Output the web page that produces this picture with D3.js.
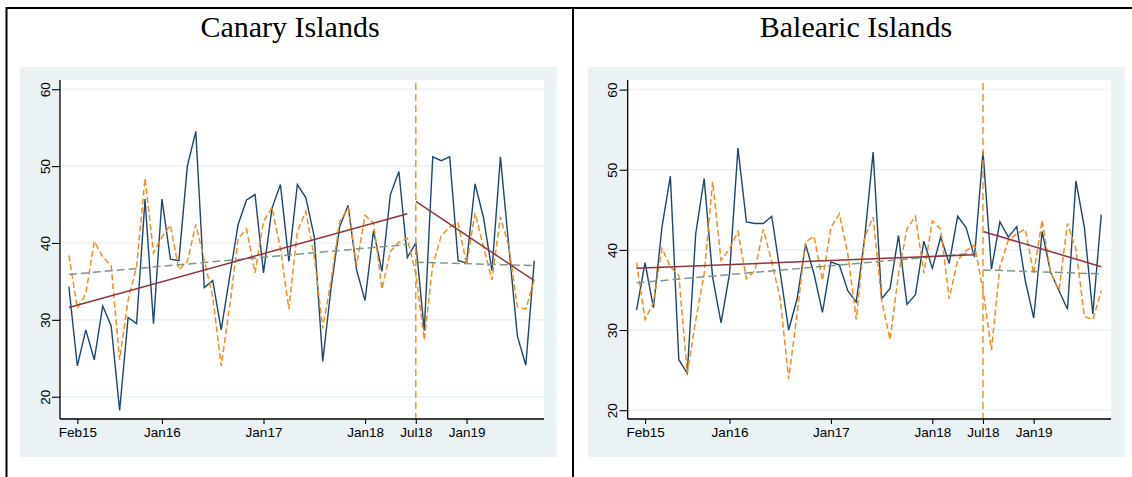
<!DOCTYPE html>
<html>
<head>
<meta charset="utf-8">
<script src="https://cdn.jsdelivr.net/npm/d3@7"></script>
<style>
  body { margin: 0; background: #fff; }
  svg { display: block; }
  .tick text { font-family: "Liberation Sans", Arial, sans-serif; font-size: 13.5px; fill: #000; }
  .title { font-family: "Liberation Serif", "Times New Roman", serif; font-size: 30px; fill: #000; }
</style>
</head>
<body>
<svg id="chart" width="1132" height="477"></svg>
<script>
// months are indexed 0..55 (one point per month)
const months = d3.range(0, 56);
const tickMonths = [1, 11, 23, 35, 41, 47];
const tickLabels = ["Feb15", "Jan16", "Jan17", "Jan18", "Jul18", "Jan19"];
const yTicks = [20, 30, 40, 50, 60];
const breakMonth = 41;

// Canary Islands
const canaryActual = [34.3, 24.0, 28.7, 24.8, 31.8, 29.2, 18.2, 30.3, 29.5, 45.7,
  29.5, 45.7, 37.9, 37.7, 50.0, 54.5, 34.2, 35.1, 28.7, 35.6,
  42.4, 45.6, 46.3, 36.1, 44.5, 47.6, 37.6, 47.6, 45.9, 40.8,
  24.6, 34.3, 42.1, 44.9, 36.5, 32.5, 41.6, 36.3, 46.3, 49.3,
  38.1, 40.0, 28.6, 51.2, 50.7, 51.2, 37.7, 37.4, 47.7, 43.3,
  36.4, 51.2, 39.5, 27.9, 24.1, 37.7];
const canaryPredicted = [38.4, 31.5, 33.4, 40.2, 38.2, 37.0, 24.8, 32.6, 36.9, 48.4,
  38.7, 40.8, 42.3, 36.5, 37.6, 42.4, 37.8, 33.0, 24.0, 31.7,
  40.6, 41.8, 36.1, 42.8, 44.6, 39.3, 31.4, 41.5, 44.1, 38.2,
  28.9, 35.2, 42.8, 44.5, 37.1, 43.6, 42.6, 34.0, 38.9, 40.1,
  40.6, 36.0, 27.4, 37.1, 40.9, 42.1, 42.6, 37.2, 43.9, 39.5,
  35.2, 43.4, 39.5, 31.7, 31.4, 35.2];
const canaryTrendPre = [35.9, 39.8];   // dashed fit, months 0..40
const canaryTrendPost = [37.5, 37.05]; // dashed fit, months 41..55
const canaryFitPre = [31.6, 43.8];     // solid fit, months 0..40
const canaryFitPost = [45.4, 35.1];    // solid fit, months 41..55

// Balearic Islands
const balearicActual = [32.5, 38.4, 32.8, 42.8, 49.2, 26.3, 24.6, 42.0, 48.9, 36.6,
  30.9, 37.0, 52.7, 43.5, 43.3, 43.3, 44.2, 37.2, 30.0, 33.9,
  40.7, 37.0, 32.2, 38.5, 38.1, 34.9, 33.5, 41.5, 52.2, 33.9,
  35.2, 41.8, 33.2, 34.4, 41.1, 37.7, 41.6, 38.3, 44.2, 42.8,
  39.1, 52.3, 37.6, 43.5, 41.6, 42.9, 36.2, 31.5, 42.3, 37.2,
  34.9, 32.6, 48.6, 42.8, 32.0, 44.4];
const balearicPredicted = [38.4, 31.3, 33.4, 40.2, 37.9, 36.8, 24.6, 31.2, 37.0, 48.5,
  38.7, 40.1, 42.3, 36.4, 37.4, 42.6, 38.5, 33.9, 23.9, 32.0,
  41.0, 41.7, 36.2, 42.8, 44.5, 39.5, 31.3, 41.6, 44.1, 33.7,
  28.8, 37.0, 42.6, 44.2, 37.1, 43.6, 42.6, 33.9, 38.7, 39.9,
  40.6, 35.0, 27.5, 37.9, 41.2, 42.0, 42.6, 37.0, 43.7, 37.2,
  35.0, 43.3, 40.1, 31.7, 31.3, 34.9];
const balearicTrendPre = [35.9, 39.6];
const balearicTrendPost = [37.5, 37.0];
const balearicFitPre = [37.7, 39.4];
const balearicFitPost = [42.3, 37.9];

const svg = d3.select("#chart");

// outer frame
svg.append("line").attr("x1", 6.5).attr("x2", 1132).attr("y1", 8).attr("y2", 8)
  .attr("stroke", "#000").attr("stroke-width", 2);
svg.append("line").attr("x1", 6.5).attr("x2", 6.5).attr("y1", 7).attr("y2", 477)
  .attr("stroke", "#000").attr("stroke-width", 2);
svg.append("line").attr("x1", 573).attr("x2", 573).attr("y1", 7).attr("y2", 477)
  .attr("stroke", "#000").attr("stroke-width", 2);

function drawPanel(opts) {
  const g = svg.append("g");
  const W = opts.plotRight - opts.plotLeft, H = 339;

  g.append("text").attr("class", "title")
    .attr("x", opts.titleX).attr("y", 37)
    .attr("text-anchor", "middle").text(opts.title);

  g.append("rect").attr("x", opts.bgLeft).attr("y", 67)
    .attr("width", 537).attr("height", 390).attr("fill", "#eaf2f3");

  const plot = g.append("g").attr("transform", `translate(${opts.plotLeft},80)`);
  plot.append("rect").attr("width", W).attr("height", H).attr("fill", "#fff");

  const x = d3.scaleLinear().domain([-1.05, 56.15]).range([0, W]);
  const y = d3.scaleLinear().domain(opts.yDomain).range([H, 0]);

  // grid
  plot.selectAll(".grid").data(yTicks).join("line")
    .attr("x1", 0).attr("x2", W)
    .attr("y1", d => y(d)).attr("y2", d => y(d))
    .attr("stroke", "#eaf2f3").attr("stroke-width", 1.5);

  const line = d3.line().x((d, i) => x(months[i])).y(d => y(d));

  plot.append("path").datum(opts.actual)
    .attr("d", line).attr("fill", "none")
    .attr("stroke", "#1a476f").attr("stroke-width", 1.4);

  plot.append("path").datum(opts.predicted)
    .attr("d", line).attr("fill", "none")
    .attr("stroke", "#f28e1c").attr("stroke-width", 1.5)
    .attr("stroke-dasharray", "6,3");

  const seg = (vals, t0, t1, color, dash) => {
    plot.append("line")
      .attr("x1", x(t0)).attr("x2", x(t1))
      .attr("y1", y(vals[0])).attr("y2", y(vals[1]))
      .attr("stroke", color).attr("stroke-width", 1.5)
      .attr("stroke-dasharray", dash);
  };
  seg(opts.trendPre, 0, breakMonth - 1, "#7f988a", "8,4");
  seg(opts.trendPost, breakMonth, 55, "#7f988a", "8,4");
  seg(opts.fitPre, 0, breakMonth - 1, "#90353b", null);
  seg(opts.fitPost, breakMonth, 55, "#90353b", null);

  // break line
  plot.append("line")
    .attr("x1", x(breakMonth)).attr("x2", x(breakMonth))
    .attr("y1", 3).attr("y2", H)
    .attr("stroke", "#f28e1c").attr("stroke-width", 1.4)
    .attr("stroke-dasharray", "7,4");

  // axes
  const yAxis = plot.append("g")
    .call(d3.axisLeft(y).tickValues(yTicks).tickSize(8).tickSizeOuter(0));
  yAxis.select(".domain").attr("d", `M0,0V${H}`).attr("stroke-width", 1.3);
  yAxis.selectAll(".tick line").attr("stroke-width", 1.1);
  yAxis.selectAll(".tick text")
    .attr("transform", "rotate(-90)")
    .attr("x", 0).attr("y", -10.5).attr("dy", 0)
    .style("text-anchor", "middle");

  const xAxis = plot.append("g").attr("transform", `translate(0,${H})`)
    .call(d3.axisBottom(x).tickValues(tickMonths)
      .tickFormat((d, i) => tickLabels[i]).tickSize(5).tickPadding(3.4).tickSizeOuter(0));
  xAxis.select(".domain").attr("d", `M0,0H${W}`).attr("stroke-width", 1.3);
  xAxis.selectAll(".tick line").attr("stroke-width", 1.1);
  yAxis.attr("font-family", null).attr("font-size", null);
  xAxis.attr("font-family", null).attr("font-size", null);
}

drawPanel({
  title: "Canary Islands", titleX: 290, bgLeft: 20,
  plotLeft: 60, plotRight: 544, yDomain: [17.1, 61.2],
  actual: canaryActual, predicted: canaryPredicted,
  trendPre: canaryTrendPre, trendPost: canaryTrendPost,
  fitPre: canaryFitPre, fitPost: canaryFitPost
});

drawPanel({
  title: "Balearic Islands", titleX: 856, bgLeft: 588,
  plotLeft: 627.7, plotRight: 1111, yDomain: [18.9, 61.2],
  actual: balearicActual, predicted: balearicPredicted,
  trendPre: balearicTrendPre, trendPost: balearicTrendPost,
  fitPre: balearicFitPre, fitPost: balearicFitPost
});
</script>
</body>
</html>
